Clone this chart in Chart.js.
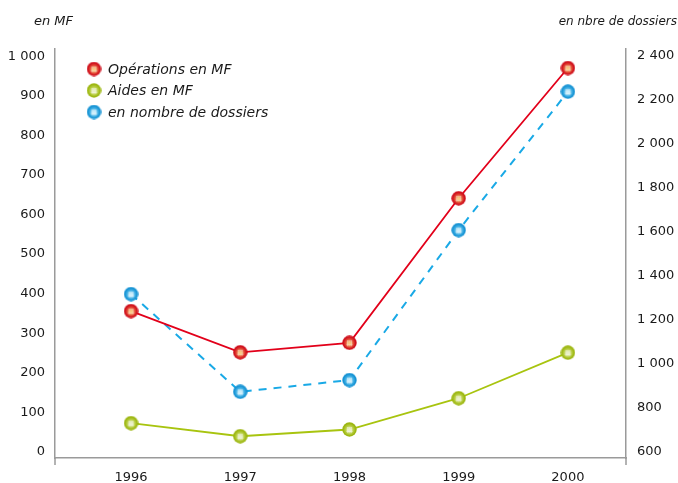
<!DOCTYPE html>
<html><head><meta charset="utf-8">
<script src="https://cdn.jsdelivr.net/npm/chart.js@4"></script>
<style>html,body{margin:0;padding:0;background:#fff}#w{width:678px;height:483px;position:relative}</style>
</head><body><div id="w"><canvas id="c"></canvas></div>
<script>
const years = [1996, 1997, 1998, 1999, 2000];
const operationsMF = [356, 252, 276, 641, 970];
const aidesMF = [73, 40, 57, 136, 251];
const nombreDossiers = [1318, 874, 927, 1609, 2238];
const leftTicks = [0, 100, 200, 300, 400, 500, 600, 700, 800, 900, 1000];
const rightTicks = [600, 800, 1000, 1200, 1400, 1600, 1800, 2000, 2200, 2400];
const seriesLabels = ['Opérations en MF', 'Aides en MF', 'en nombre de dossiers'];
const leftTitle = 'en MF';
const rightTitle = 'en nbre de dossiers';

const FONT = '"DejaVu Sans", Verdana, sans-serif';
const fmt = v => String(v).replace(/\B(?=(\d{3})+(?!\d))/g, ' ');

function makeDot(edge, mid, center) {
  const s = 15, c = document.createElement('canvas');
  c.width = s; c.height = s;
  const x = c.getContext('2d');
  const g = x.createRadialGradient(7.5, 8.3, 0.3, 7.5, 7.5, 7.5);
  g.addColorStop(0, center);
  g.addColorStop(0.18, center);
  g.addColorStop(0.5, mid);
  g.addColorStop(0.8, edge);
  g.addColorStop(1, edge);
  x.beginPath(); x.arc(7.5, 7.5, 7.2, 0, Math.PI * 2); x.fillStyle = g; x.fill();
  x.save(); x.beginPath(); x.arc(7.5, 8, 3.6, 0, Math.PI * 2); x.clip();
  x.strokeStyle = 'rgba(255,255,255,0.3)'; x.lineWidth = 1;
  [5.5, 9.5].forEach(p => {
    x.beginPath(); x.moveTo(p, 2); x.lineTo(p, 14); x.stroke();
    x.beginPath(); x.moveTo(2, p); x.lineTo(14, p); x.stroke();
  });
  x.restore();
  return c;
}
const dotRed = makeDot('#cf0f1c', '#e44a35', '#f8c983');
const dotGreen = makeDot('#9db712', '#b9cf45', '#eaf0c8');
const dotBlue = makeDot('#1693d4', '#44b2e6', '#cdeefb');
const dots = [dotRed, dotGreen, dotBlue];

const decor = {
  id: 'decor',
  afterDraw(chart) {
    const ctx = chart.ctx, a = chart.chartArea;
    ctx.save();
    ctx.strokeStyle = '#9a9a9a'; ctx.lineWidth = 1.5;
    [a.left, a.right].forEach(xx => {
      ctx.beginPath(); ctx.moveTo(xx, a.bottom); ctx.lineTo(xx, a.bottom + 7); ctx.stroke();
    });
    ctx.fillStyle = '#1a1a1a';
    ctx.textBaseline = 'middle';
    ctx.textAlign = 'left';
    ctx.font = 'italic 13px ' + FONT;
    ctx.fillText(leftTitle, 34, 22);
    ctx.textAlign = 'right';
    ctx.font = 'italic 12px ' + FONT;
    ctx.fillText(rightTitle, 677, 22);
    ctx.textAlign = 'left';
    ctx.font = 'italic 14px ' + FONT;
    chart.data.datasets.forEach((ds, i) => {
      const y = 69 + i * 21.5;
      ctx.drawImage(dots[i], 94 - 7.5, y - 7.5);
      ctx.fillText(ds.label, 108, y + 1);
    });
    ctx.restore();
  }
};

new Chart(document.getElementById('c'), {
  type: 'line',
  data: {
    datasets: [
      { label: seriesLabels[0], data: years.map((y, i) => ({ x: y, y: operationsMF[i] })), yAxisID: 'y',
        borderColor: '#e2001a', borderWidth: 1.8, pointStyle: dotRed, pointRadius: 7 },
      { label: seriesLabels[1], data: years.map((y, i) => ({ x: y, y: aidesMF[i] })), yAxisID: 'y',
        borderColor: '#a8c40f', borderWidth: 1.8, pointStyle: dotGreen, pointRadius: 7 },
      { label: seriesLabels[2], data: years.map((y, i) => ({ x: y, y: nombreDossiers[i] })), yAxisID: 'y2',
        borderColor: '#19a9e6', borderWidth: 2, borderDash: [8, 7], pointStyle: dotBlue, pointRadius: 7 }
    ]
  },
  options: {
    responsive: true, maintainAspectRatio: false, animation: false,
    layout: { padding: { top: 49, left: 0, right: 0, bottom: 0 } },
    plugins: { legend: { display: false }, tooltip: { enabled: false } },
    scales: {
      x: {
        type: 'linear', min: 1995.304, max: 2000.532,
        afterBuildTicks: s => { s.ticks = years.map(v => ({ value: v })); },
        afterFit: s => { s.height = 25; },
        grid: { display: false, drawTicks: false },
        border: { display: true, color: '#9a9a9a', width: 1.5 },
        ticks: { color: '#1a1a1a', font: { family: FONT, size: 13 }, padding: 12, callback: v => String(v), maxRotation: 0 }
      },
      y: {
        position: 'left', min: -15, max: 1018,
        afterBuildTicks: s => { s.ticks = leftTicks.map(v => ({ value: v })); },
        afterFit: s => { s.width = 55; },
        grid: { display: false, drawTicks: false },
        border: { display: true, color: '#9a9a9a', width: 1.5 },
        ticks: { color: '#1a1a1a', font: { family: FONT, size: 13 }, padding: 10, callback: v => fmt(v) }
      },
      y2: {
        position: 'right', min: 573, max: 2432,
        afterBuildTicks: s => { s.ticks = rightTicks.map(v => ({ value: v })); },
        afterFit: s => { s.width = 52; },
        grid: { display: false, drawTicks: false },
        border: { display: true, color: '#9a9a9a', width: 1.5 },
        ticks: { color: '#1a1a1a', font: { family: FONT, size: 13 }, padding: 11, callback: v => fmt(v) }
      }
    }
  },
  plugins: [decor]
});
</script></body></html>
